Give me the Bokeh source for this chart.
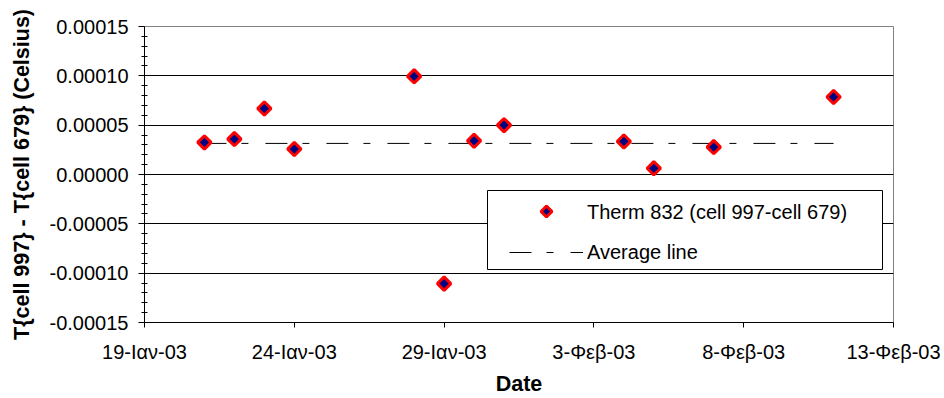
import pandas as pd
from math import pi
from bokeh.plotting import figure
from bokeh.models import (ColumnDataSource, FixedTicker, CustomJSTickFormatter,
                          PrintfTickFormatter, Legend, LegendItem, BoxAnnotation,
                          PolyAnnotation, Range1d)
from bokeh.embed import file_html
from bokeh.resources import INLINE

# ---- data ----
dates = ["2003-01-21", "2003-01-22", "2003-01-23", "2003-01-24",
         "2003-01-28", "2003-01-29", "2003-01-30", "2003-01-31",
         "2003-02-04", "2003-02-05", "2003-02-07", "2003-02-11"]
values = [0.0000325, 0.0000359, 0.0000669, 0.0000258,
          0.0000995, -0.0001106, 0.0000342, 0.0000500,
          0.0000335, 0.0000063, 0.0000278, 0.0000786]
average_value = 0.0000315

series_label = "Therm 832 (cell 997-cell 679)"
average_label = "Average line"
x_title = "Date"
y_title = "T{cell 997} - T{cell 679} (Celsius)"

x_tick_dates = ["2003-01-19", "2003-01-24", "2003-01-29",
                "2003-02-03", "2003-02-08", "2003-02-13"]
month_names = ["Ιαν", "Φεβ", "Μαρ", "Απρ", "Μαϊ", "Ιουν",
               "Ιουλ", "Αυγ", "Σεπ", "Οκτ", "Νοε", "Δεκ"]
y_ticks = [-0.00015, -0.0001, -0.00005, 0.0, 0.00005, 0.0001, 0.00015]

FONT = "Liberation Sans"

x = pd.to_datetime(dates)
src = ColumnDataSource(dict(x=x, y=values))
xt = pd.to_datetime(x_tick_dates)
xt_ms = [float(t.value) / 1e6 for t in xt]

p = figure(width=944, height=398, x_axis_type="datetime",
           x_range=Range1d(xt[0], xt[-1]),
           y_range=Range1d(y_ticks[0], y_ticks[-1]),
           output_backend="svg", toolbar_location=None,
           min_border_left=144, min_border_right=51,
           min_border_top=26, min_border_bottom=75)
p.background_fill_color = "white"
p.border_fill_color = "white"
p.outline_line_color = "#808080"
p.outline_line_width = 1

# average line, then points on top
r_avg = p.line(x=[x[0], x[-1]], y=[average_value, average_value],
               line_color="black", line_width=1, line_dash="22 15 7 17")
r_pts = p.scatter("x", "y", source=src, marker="square", angle=pi / 4,
                  size=9.5, fill_color="#000080", line_color="#ff0000",
                  line_width=3)
# invisible twin used only to reserve the legend slot (diamond drawn below)
r_leg = p.scatter("x", "y", source=src, marker="square", size=1,
                  fill_alpha=0, line_alpha=0)

# axes
p.xaxis.ticker = FixedTicker(ticks=xt_ms)
p.xaxis.formatter = CustomJSTickFormatter(args=dict(months=month_names), code="""
    const d = new Date(tick);
    return d.getUTCDate() + "-" + months[d.getUTCMonth()] + "-" + String(d.getUTCFullYear()).slice(-2);
""")
minor = [i * 1e-5 for i in range(-15, 16) if i % 5 != 0]
p.yaxis.ticker = FixedTicker(ticks=y_ticks, minor_ticks=minor)
p.yaxis.formatter = PrintfTickFormatter(format="%.5f")

for ax in (p.xaxis[0], p.yaxis[0]):
    ax.axis_line_color = "black"
    ax.axis_line_width = 1
    ax.major_tick_line_color = "black"
    ax.major_tick_in = 0
    ax.major_label_text_font = FONT
    ax.major_label_text_font_size = "20px"
    ax.major_label_text_color = "black"
    ax.axis_label_text_font = FONT
    ax.axis_label_text_font_size = "21.5px"
    ax.axis_label_text_font_style = "bold"
    ax.axis_label_text_color = "black"

p.xaxis.axis_label = x_title
p.xaxis.major_tick_out = 5
p.xaxis.minor_tick_line_color = None
p.xaxis.major_label_standoff = 13
p.xaxis.axis_label_standoff = 6

p.yaxis.axis_label = y_title
p.yaxis.major_tick_out = 6
p.yaxis.minor_tick_in = 3
p.yaxis.minor_tick_out = 3
p.yaxis.minor_tick_line_color = "black"
p.yaxis.major_label_standoff = 10
p.yaxis.axis_label_standoff = 13

p.xgrid.visible = False
p.ygrid.grid_line_color = "black"
p.ygrid.grid_line_width = 1

# legend frame
box = BoxAnnotation(left=343, right=738, bottom=53, top=132,
                    left_units="screen", right_units="screen",
                    top_units="screen", bottom_units="screen",
                    fill_color="white", fill_alpha=1.0,
                    line_color="black", line_alpha=1.0, line_width=1)
p.add_layout(box)

legend = Legend(items=[LegendItem(label=series_label, renderers=[r_leg]),
                       LegendItem(label=average_label, renderers=[r_avg])],
                location=(365, 55), padding=0, spacing=10,
                glyph_width=74, glyph_height=30, label_height=30,
                label_standoff=4, margin=0,
                label_text_font=FONT, label_text_font_size="20px",
                label_text_color="black",
                border_line_color=None, background_fill_alpha=0)
p.add_layout(legend)

# legend diamond symbol (frame-relative screen coordinates)
cx, cy, r = 402, 111, 5.5
p.add_layout(PolyAnnotation(xs=[cx, cx + r, cx, cx - r], ys=[cy + r, cy, cy - r, cy],
                            xs_units="screen", ys_units="screen",
                            fill_color="#000080", fill_alpha=1.0,
                            line_color="#ff0000", line_alpha=1.0, line_width=3,
                            level="overlay"))

open("out.html", "w").write(file_html(p, INLINE))
